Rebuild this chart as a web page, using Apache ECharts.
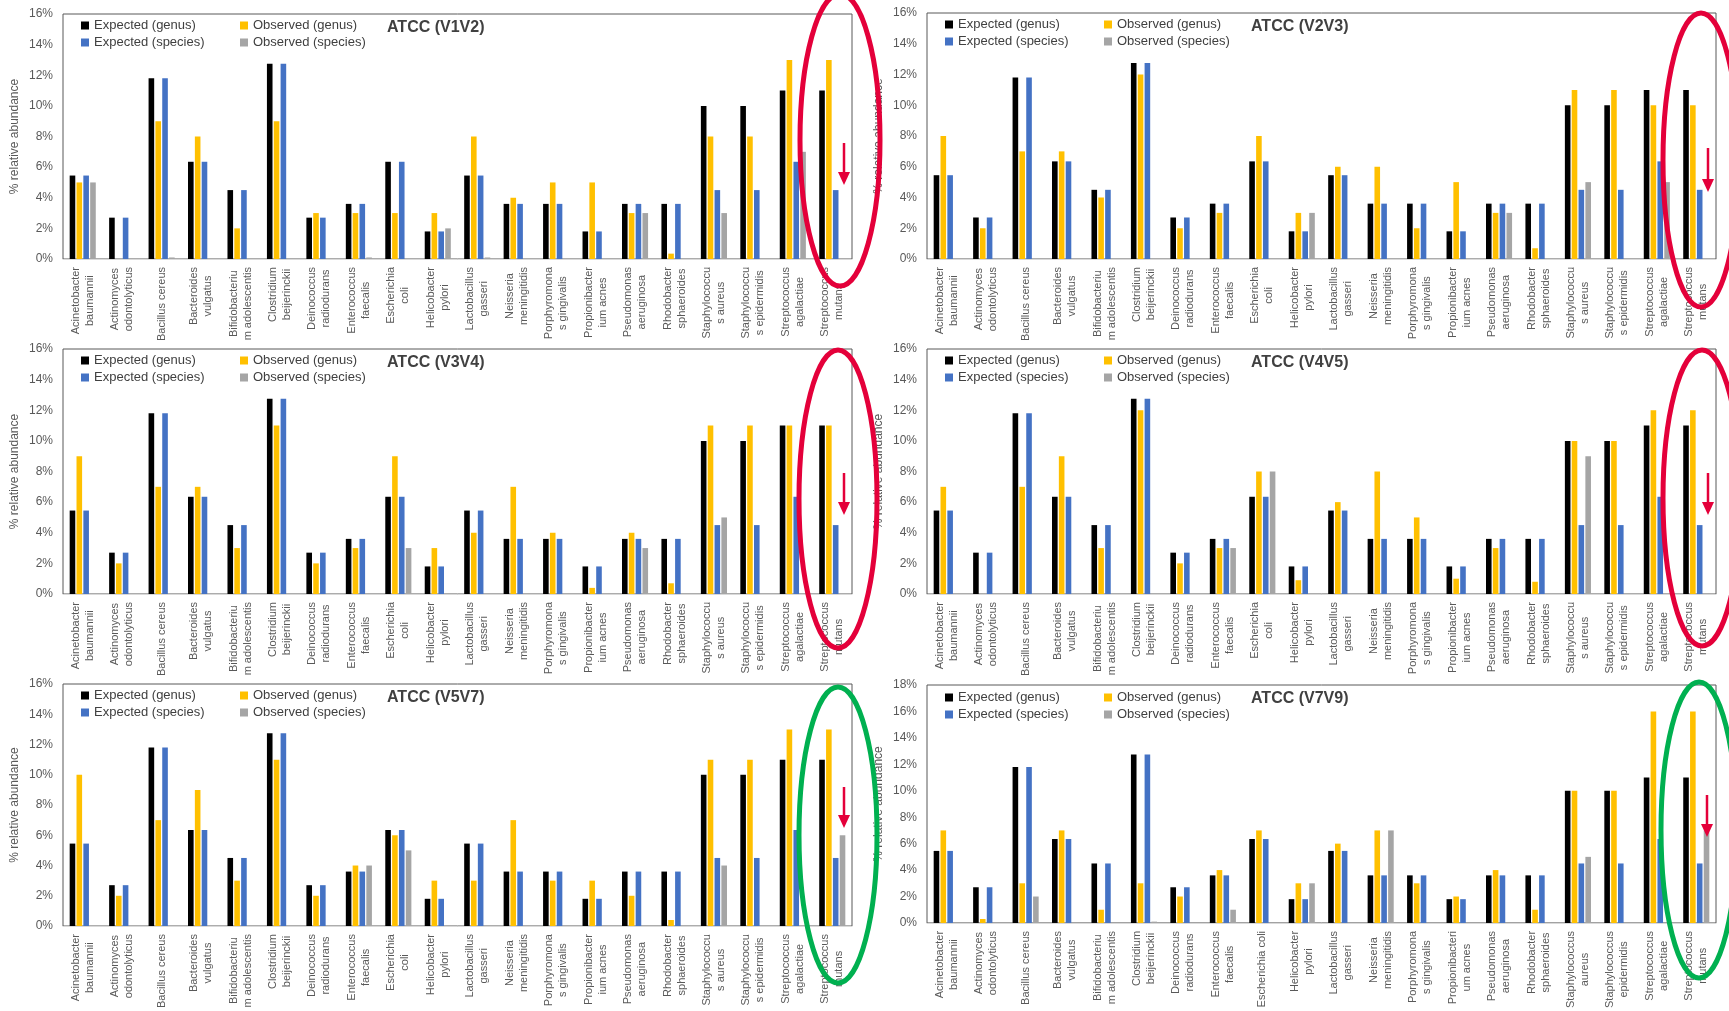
<!DOCTYPE html>
<html>
<head>
<meta charset="utf-8">
<script src="https://cdn.jsdelivr.net/npm/echarts@6/dist/echarts.min.js"></script>
<style>
  html, body { margin: 0; padding: 0; background: #fff; }
  #chart { width: 1729px; height: 1011px; }
</style>
</head>
<body>
<div id="chart"></div>
<script>
// ---- data ----
const taxa = [
  "Acinetobacter\nbaumannii", "Actinomyces\nodontolyticus", "Bacillus cereus", "Bacteroides\nvulgatus",
  "Bifidobacteriu\nm adolescentis", "Clostridium\nbeijerinckii", "Deinococcus\nradiodurans", "Enterococcus\nfaecalis",
  "Escherichia\ncoli", "Helicobacter\npylori", "Lactobacillus\ngasseri", "Neisseria\nmeningitidis",
  "Porphyromona\ns gingivalis", "Propionibacter\nium acnes", "Pseudomonas\naeruginosa", "Rhodobacter\nsphaeroides",
  "Staphylococcu\ns aureus", "Staphylococcu\ns epidermidis", "Streptococcus\nagalactiae", "Streptococcus\nmutans"
];
const taxaV7V9 = [
  "Acinetobacter\nbaumannii", "Actinomyces\nodontolyticus", "Bacillus cereus", "Bacteroides\nvulgatus",
  "Bifidobacteriu\nm adolescentis", "Clostridium\nbeijerinckii", "Deinococcus\nradiodurans", "Enterococcus\nfaecalis",
  "Escherichia coli", "Helicobacter\npylori", "Lactobacillus\ngasseri", "Neisseria\nmeningitidis",
  "Porphyromona\ns gingivalis", "Propionibacteri\num acnes", "Pseudomonas\naeruginosa", "Rhodobacter\nsphaeroides",
  "Staphylococcus\naureus", "Staphylococcus\nepidermidis", "Streptococcus\nagalactiae", "Streptococcus\nmutans"
];

const regions = ["V1V2", "V2V3", "V3V4", "V4V5", "V5V7", "V7V9"];
const yMax = [16, 16, 16, 16, 16, 18];

const expectedGenus   = [5.45, 2.7, 11.8, 6.35, 4.5, 12.75, 2.7, 3.6, 6.35, 1.8, 5.45, 3.6, 3.6, 1.8, 3.6, 3.6, 10, 10, 11, 11];
const expectedSpecies = [5.45, 2.7, 11.8, 6.35, 4.5, 12.75, 2.7, 3.6, 6.35, 1.8, 5.45, 3.6, 3.6, 1.8, 3.6, 3.6, 4.5, 4.5, 6.35, 4.5];

const v1v2Genus   = [5, 0, 9, 8, 2, 9, 3, 3, 3, 3, 8, 4, 5, 5, 3, 0.35, 8, 8, 13, 13];
const v1v2Species = [5, 0, 0.1, 0, 0, 0, 0, 0.1, 0, 2, 0.1, 0, 0, 0, 3, 0, 3, 0, 7, 0];
const v2v3Genus   = [8, 2, 7, 7, 4, 12, 2, 3, 8, 3, 6, 6, 2, 5, 3, 0.7, 11, 11, 10, 10];
const v2v3Species = [0, 0, 0, 0, 0, 0, 0, 0, 0, 3, 0, 0, 0, 0, 3, 0, 5, 0, 5, 0];
const v3v4Genus   = [9, 2, 7, 7, 3, 11, 2, 3, 9, 3, 4, 7, 4, 0.4, 4, 0.7, 11, 11, 11, 11];
const v3v4Species = [0, 0, 0, 0, 0, 0, 0, 0, 3, 0, 0, 0, 0, 0, 3, 0, 5, 0, 0, 0];
const v4v5Genus   = [7, 0, 7, 9, 3, 12, 2, 3, 8, 0.9, 6, 8, 5, 1, 3, 0.8, 10, 10, 12, 12];
const v4v5Species = [0, 0, 0, 0, 0, 0, 0, 3, 8, 0, 0, 0, 0, 0, 0, 0, 9, 0, 0, 0];
const v5v7Genus   = [10, 2, 7, 9, 3, 11, 2, 4, 6, 3, 3, 7, 3, 3, 2, 0.4, 11, 11, 13, 13];
const v5v7Species = [0, 0, 0, 0, 0, 0, 0, 4, 5, 0, 0, 0, 0, 0, 0, 0, 4, 0, 0, 6];
const v7v9Genus   = [7, 0.3, 3, 7, 1, 3, 2, 4, 7, 3, 6, 7, 3, 2, 4, 1, 10, 10, 16, 16];
const v7v9Species = [0, 0, 2, 0, 0, 0.1, 0, 1, 0, 3, 0, 7, 0, 0, 0, 0, 5, 0, 0, 7];

const observedGenus   = [v1v2Genus, v2v3Genus, v3v4Genus, v4v5Genus, v5v7Genus, v7v9Genus];
const observedSpecies = [v1v2Species, v2v3Species, v3v4Species, v4v5Species, v5v7Species, v7v9Species];
const panelLabels = [taxa, taxa, taxa, taxa, taxa, taxaV7V9];

// ---- layout ----
const FONT = '"Liberation Sans", Arial, sans-serif';
const PLOT_W = 789;
const boxes = [
  { left: 63,  top: 14,  bottom: 259 },
  { left: 927, top: 13,  bottom: 259 },
  { left: 63,  top: 349, bottom: 594 },
  { left: 927, top: 349, bottom: 594 },
  { left: 63,  top: 684, bottom: 929 },
  { left: 927, top: 685, bottom: 941 }
];
const seriesNames = ["Expected (genus)", "Observed (genus)", "Expected (species)", "Observed (species)"];
const colors = ["#000000", "#FFC000", "#4472C4", "#A5A5A5"];

let grid = [], xAxis = [], yAxis = [], series = [], legend = [], title = [];

boxes.forEach((b, p) => {
  grid.push({
    left: b.left, top: b.top, width: PLOT_W, height: b.bottom - b.top,
    show: true, borderColor: "#595959", borderWidth: 1, backgroundColor: "transparent"
  });
  xAxis.push({
    type: "category", gridIndex: p, data: panelLabels[p],
    axisTick: { show: false },
    axisLine: { lineStyle: { color: "#D9D9D9", width: 1 } },
    axisLabel: {
      interval: 0, rotate: 90, margin: 8,
      formatter: v => v.split("\n").map(s => "{c|" + s + "}").join("\n"),
      rich: { c: { align: "center", fontSize: 11, lineHeight: 14, color: "#595959", fontFamily: FONT } }
    }
  });
  yAxis.push({
    type: "value", gridIndex: p, min: 0, max: yMax[p], interval: 2,
    name: "% relative abundance", nameLocation: "middle", nameGap: 42,
    nameTextStyle: { fontSize: 12, color: "#595959", fontFamily: FONT },
    axisLine: { show: false }, axisTick: { show: false }, splitLine: { show: false },
    axisLabel: { formatter: "{value}%", fontSize: 12, color: "#595959", margin: 10, fontFamily: FONT }
  });
  const vals = [expectedGenus, observedGenus[p], expectedSpecies, observedSpecies[p]];
  vals.forEach((d, k) => {
    series.push({
      type: "bar", name: seriesNames[k], xAxisIndex: p, yAxisIndex: p,
      data: d, barWidth: 5.6, barGap: "22%",
      itemStyle: { color: colors[k] }
    });
  });
  const legTop = b.top + 5 + (p === 5 ? 1 : 0);
  const common = {
    orient: "vertical", top: legTop, padding: 0, itemGap: 4,
    itemWidth: 8, itemHeight: 8, icon: "rect",
    textStyle: { fontSize: 13, color: "#404040", fontFamily: FONT }
  };
  legend.push(Object.assign({}, common, { left: b.left + 18, data: [seriesNames[0], seriesNames[2]] }));
  legend.push(Object.assign({}, common, { left: b.left + 177, data: [seriesNames[1], seriesNames[3]] }));
  title.push({
    text: "ATCC (" + regions[p] + ")", left: b.left + 324, top: b.top + 6, padding: 0,
    textStyle: { fontSize: 16, fontWeight: "bold", color: "#404040", fontFamily: FONT }
  });
});

// annotations: ellipses + arrows
const rings = [
  { cx: 840, cy: 140, rx: 40, ry: 146, c: "#E4003A" },
  { cx: 1701, cy: 160, rx: 38, ry: 147, c: "#E4003A" },
  { cx: 838, cy: 499, rx: 39, ry: 149, c: "#E4003A" },
  { cx: 1702, cy: 498, rx: 39, ry: 148, c: "#E4003A" },
  { cx: 838, cy: 835, rx: 39, ry: 148, c: "#00B050" },
  { cx: 1699, cy: 830, rx: 38, ry: 148, c: "#00B050" }
];
const arrows = [[844, 143, 185], [1708, 148, 192], [844, 473, 515], [1708, 473, 515], [844, 787, 828], [1707, 795, 837]];
let graphic = [];
rings.forEach(r => graphic.push({
  type: "ellipse", z: 100, silent: true,
  shape: { cx: r.cx, cy: r.cy, rx: r.rx, ry: r.ry },
  style: { fill: null, stroke: r.c, lineWidth: 5 }
}));
arrows.forEach(a => {
  graphic.push({ type: "line", z: 100, silent: true,
    shape: { x1: a[0], y1: a[1], x2: a[0], y2: a[2] - 10 },
    style: { stroke: "#E4003A", lineWidth: 2.5 } });
  graphic.push({ type: "polygon", z: 100, silent: true,
    shape: { points: [[a[0] - 6, a[2] - 13], [a[0] + 6, a[2] - 13], [a[0], a[2]]] },
    style: { fill: "#E4003A" } });
});

let chart = echarts.init(document.getElementById("chart"));
chart.setOption({
  animation: false,
  backgroundColor: "#fff",
  textStyle: { fontFamily: FONT },
  title: title, legend: legend, grid: grid,
  xAxis: xAxis, yAxis: yAxis, series: series, graphic: graphic
});
</script>
</body>
</html>
